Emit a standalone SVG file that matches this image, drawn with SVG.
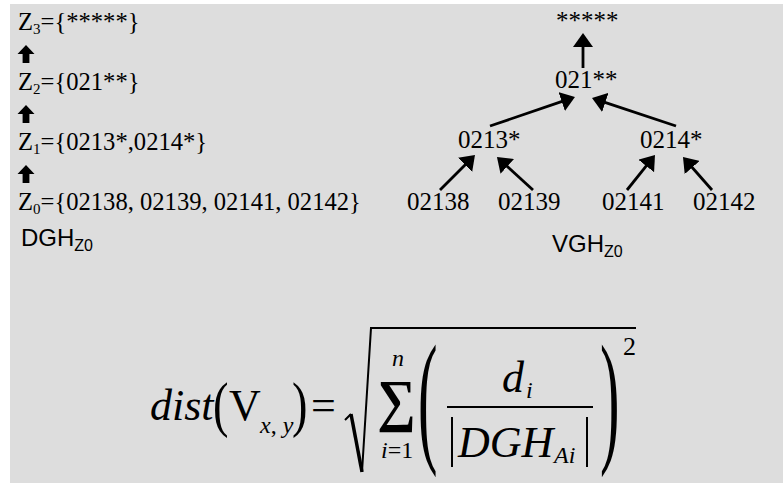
<svg xmlns="http://www.w3.org/2000/svg" width="783" height="483" viewBox="0 0 783 483">
<style>
.t{font-family:"Liberation Serif","Times New Roman",serif;fill:#000}
.l{font-size:24.6px}
.r{font-size:25px}
.s{font-size:15px}
.a{font-family:"Liberation Sans",Arial,sans-serif;fill:#000;font-size:24px}
.as{font-size:16px}
.it{font-style:italic}
.f{font-size:44px}
.fs{font-size:24px}
.conn line{stroke:#000;stroke-width:2.8}
.fl{stroke:#000;stroke-width:2;fill:none}
</style>
<defs>
<marker id="ah" viewBox="0 0 14 20" refX="2" refY="10" markerWidth="14" markerHeight="20" markerUnits="userSpaceOnUse" orient="auto">
<path d="M0,0 L14,10 L0,20 z" fill="#000"/>
</marker>
<path id="up" d="M0,-9 L8.5,0 L3.4,0 L3.4,9 L-3.4,9 L-3.4,0 L-8.5,0 z" fill="#000"/>
</defs>
<rect x="10" y="4" width="773" height="479" fill="#dddddd"/>

<g id="dgh">
<text class="t l" x="18" y="30">Z<tspan class="s" dy="4">3</tspan><tspan dy="-4">={*****}</tspan></text>
<use href="#up" x="26" y="54"/>
<text class="t l" x="18" y="90">Z<tspan class="s" dy="4">2</tspan><tspan dy="-4">={021**}</tspan></text>
<use href="#up" x="26" y="114"/>
<text class="t l" x="18" y="150">Z<tspan class="s" dy="4">1</tspan><tspan dy="-4">={0213*,0214*}</tspan></text>
<use href="#up" x="26" y="174"/>
<text class="t l" x="18" y="210">Z<tspan class="s" dy="4">0</tspan><tspan dy="-4">={02138, 02139, 02141, 02142}</tspan></text>
<text class="a" x="21" y="246">DGH<tspan class="as" dy="5">Z0</tspan></text>
</g>

<g id="n-root"><text class="t r" x="556" y="29">*****</text></g>
<g id="n-021"><text class="t r" x="555" y="88">021**</text></g>
<g id="n-0213"><text class="t r" x="458" y="148">0213*</text></g>
<g id="n-0214"><text class="t r" x="640" y="148">0214*</text></g>
<g id="n-02138"><text class="t r" x="407" y="210">02138</text></g>
<g id="n-02139"><text class="t r" x="498" y="210">02139</text></g>
<g id="n-02141"><text class="t r" x="602" y="210">02141</text></g>
<g id="n-02142"><text class="t r" x="693" y="210">02142</text></g>
<g id="vgh-label"><text class="a" x="552" y="252">VGH<tspan class="as" dy="5">Z0</tspan></text></g>

<g id="connectors" class="conn">
<line x1="583" y1="68" x2="583" y2="45" marker-end="url(#ah)"/>
<line x1="490" y1="126" x2="563.6" y2="100.9" marker-end="url(#ah)"/>
<line x1="676" y1="126" x2="603.4" y2="101.8" marker-end="url(#ah)"/>
<line x1="440" y1="190" x2="466.5" y2="163.5" marker-end="url(#ah)"/>
<line x1="533" y1="190" x2="505.8" y2="165.1" marker-end="url(#ah)"/>
<line x1="627" y1="190" x2="647.5" y2="164.4" marker-end="url(#ah)"/>
<line x1="712" y1="190" x2="690.9" y2="166" marker-end="url(#ah)"/>
</g>

<g id="formula">
<text class="t it f" x="150" y="420">dist</text>
<text class="t" font-size="62" transform="translate(213,425) scale(0.75,1)">(</text>
<text class="t f" x="229" y="420">V</text>
<text class="t it fs" x="260" y="433">x<tspan font-style="normal">,</tspan> y</text>
<text class="t" font-size="62" transform="translate(292,425) scale(0.75,1)">)</text>
<text class="t f" x="311" y="420">=</text>
<path class="fl" d="M345,420 L351,414 M362,472 L371,328 L636,328"/>
<line x1="351" y1="414" x2="362" y2="472" stroke="#000" stroke-width="3.5"/>
<text class="t" font-size="58" font-weight="bold" transform="translate(377,420) scale(0.93,1)">∑</text>
<text class="t it fs" x="392" y="366">n</text>
<text class="t fs" x="381" y="458"><tspan font-style="italic">i</tspan>=1</text>
<text class="t" font-size="146" transform="translate(418,446) scale(0.4,1)">(</text>
<text class="t it f" x="502" y="392">d</text>
<text class="t it fs" x="526" y="398">i</text>
<line class="fl" x1="447" y1="407" x2="593" y2="407"/>
<line class="fl" x1="452" y1="417" x2="452" y2="467"/>
<text class="t it f" x="458" y="457">DGH</text>
<text class="t it fs" x="554" y="463">Ai</text>
<line class="fl" x1="587" y1="417" x2="587" y2="467"/>
<text class="t" font-size="146" transform="translate(600,446) scale(0.4,1)">)</text>
<text class="t" font-size="26" x="623" y="355">2</text>
</g>
</svg>
